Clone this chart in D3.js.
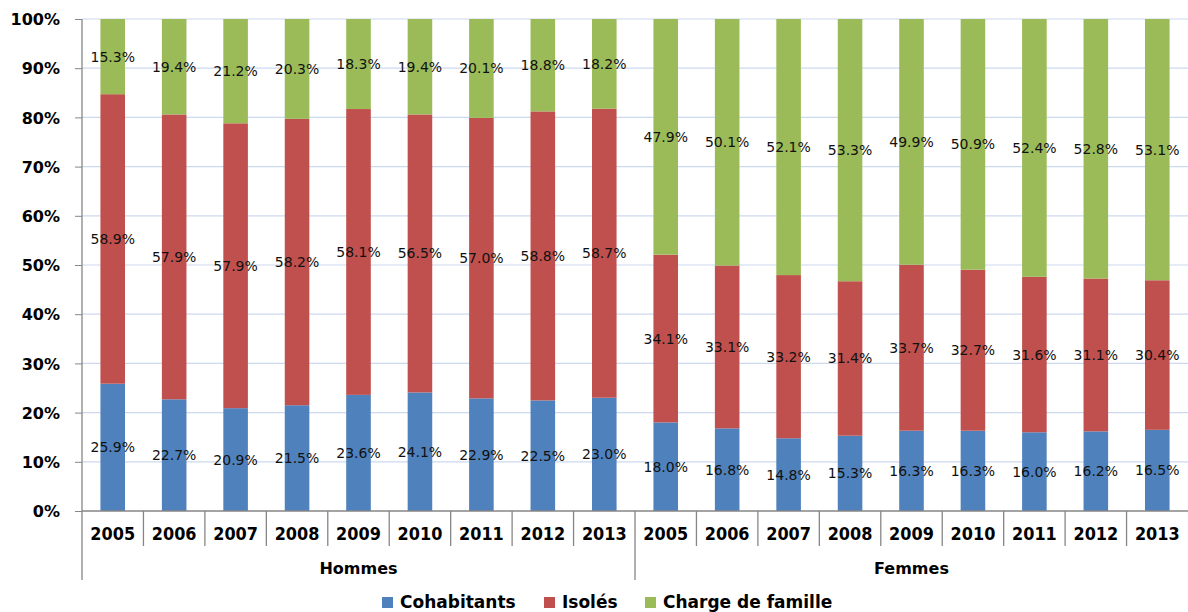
<!DOCTYPE html>
<html>
<head>
<meta charset="utf-8">
<script src="https://cdn.jsdelivr.net/npm/d3@7"></script>
<style>
  html, body { margin: 0; padding: 0; background: #fff; }
  svg { display: block; font-family: "DejaVu Sans", Verdana, sans-serif; }
</style>
</head>
<body>
<svg id="chart" width="1188" height="612"></svg>
<script>
// Household status shares by year, split by sex (100% stacked)
const groups = ["Hommes", "Femmes"];
const years = ["2005", "2006", "2007", "2008", "2009", "2010", "2011", "2012", "2013"];
const seriesNames = ["Cohabitants", "Isolés", "Charge de famille"];
const seriesColors = ["#4F81BD", "#C0504D", "#9BBB59"];

const cohabitantsHommes = [25.9, 22.7, 20.9, 21.5, 23.6, 24.1, 22.9, 22.5, 23.0];
const isolesHommes      = [58.9, 57.9, 57.9, 58.2, 58.1, 56.5, 57.0, 58.8, 58.7];
const chargeHommes      = [15.3, 19.4, 21.2, 20.3, 18.3, 19.4, 20.1, 18.8, 18.2];

const cohabitantsFemmes = [18.0, 16.8, 14.8, 15.3, 16.3, 16.3, 16.0, 16.2, 16.5];
const isolesFemmes      = [34.1, 33.1, 33.2, 31.4, 33.7, 32.7, 31.6, 31.1, 30.4];
const chargeFemmes      = [47.9, 50.1, 52.1, 53.3, 49.9, 50.9, 52.4, 52.8, 53.1];

const yTicks = [0, 0.1, 0.2, 0.3, 0.4, 0.5, 0.6, 0.7, 0.8, 0.9, 1.0];

// Build the row table
const bySex = {
  Hommes: [cohabitantsHommes, isolesHommes, chargeHommes],
  Femmes: [cohabitantsFemmes, isolesFemmes, chargeFemmes]
};
const rows = [];
groups.forEach(g => {
  years.forEach((yr, i) => {
    const vals = bySex[g].map(s => s[i]);
    rows.push({ key: g + "-" + yr, group: g, year: yr, vals: vals, total: d3.sum(vals) });
  });
});

const svg = d3.select("#chart");
const margin = { left: 82, right: 0, top: 19, bottom: 101 };
const W = 1188, H = 612;
const plotBottom = H - margin.bottom; // 511

const x = d3.scaleBand()
  .domain(rows.map(r => r.key))
  .range([margin.left, W - margin.right])
  .paddingInner(0.6)
  .paddingOuter(0.3);

const y = d3.scaleLinear().domain([0, 1]).range([plotBottom, margin.top]);

// Gridlines
svg.append("g")
  .selectAll("line")
  .data(yTicks.filter(t => t > 0))
  .join("line")
  .attr("x1", margin.left).attr("x2", W)
  .attr("y1", d => y(d)).attr("y2", d => y(d))
  .attr("stroke", "#CCDAF0")
  .attr("stroke-width", 1.2);

// Stacked segments
const segs = [];
rows.forEach(r => {
  let acc = 0;
  r.vals.forEach((v, si) => {
    const y0 = acc / r.total;
    acc += v;
    const y1 = acc / r.total;
    segs.push({ key: r.key, si: si, v: v, y0: y0, y1: y1 });
  });
});

svg.append("g")
  .selectAll("rect")
  .data(segs)
  .join("rect")
  .attr("x", d => x(d.key))
  .attr("width", x.bandwidth())
  .attr("y", d => y(d.y1))
  .attr("height", d => y(d.y0) - y(d.y1))
  .attr("fill", d => seriesColors[d.si]);

// Value labels centred in each segment
svg.append("g")
  .selectAll("text")
  .data(segs)
  .join("text")
  .attr("x", d => x(d.key) + x.bandwidth() / 2)
  .attr("y", d => y((d.y0 + d.y1) / 2) + 5)
  .attr("text-anchor", "middle")
  .attr("font-size", "14px")
  .attr("fill", "#111")
  .text(d => d.v.toFixed(1) + "%");

// Left axis
const yAxis = d3.axisLeft(y)
  .tickValues(yTicks)
  .tickFormat(d3.format(".0%"))
  .tickSize(7)
  .tickPadding(15);

const ya = svg.append("g")
  .attr("transform", `translate(${margin.left},0)`)
  .call(yAxis);
ya.select(".domain").remove();
ya.selectAll(".tick line").attr("stroke", "#868686");
ya.selectAll(".tick text")
  .attr("font-size", "16px")
  .attr("font-weight", "bold")
  .attr("font-family", "'DejaVu Sans', Verdana, sans-serif")
  .attr("fill", "#000")
  .attr("dy", "0.35em");

// Axis lines
const axisColor = "#868686";
svg.append("line")
  .attr("x1", margin.left).attr("x2", margin.left)
  .attr("y1", margin.top).attr("y2", 580)
  .attr("stroke", axisColor).attr("stroke-width", 1.3);
svg.append("line")
  .attr("x1", margin.left).attr("x2", W)
  .attr("y1", plotBottom).attr("y2", plotBottom)
  .attr("stroke", axisColor).attr("stroke-width", 1.3);

// Category separators below the axis
rows.forEach((r, i) => {
  if (i === 0) return;
  const edge = x(r.key) - x.step() * x.paddingInner() / 2;
  const isGroupEdge = i % years.length === 0;
  svg.append("line")
    .attr("x1", edge).attr("x2", edge)
    .attr("y1", plotBottom).attr("y2", isGroupEdge ? 580 : 546)
    .attr("stroke", axisColor).attr("stroke-width", 1.3);
});

// Year labels
svg.append("g")
  .selectAll("text")
  .data(rows)
  .join("text")
  .attr("transform", d => `translate(${x(d.key) + x.bandwidth() / 2},540) scale(0.92,1)`)
  .attr("text-anchor", "middle")
  .attr("font-size", "17.5px")
  .attr("font-weight", "bold")
  .attr("fill", "#000")
  .text(d => d.year);

// Group labels
groups.forEach(g => {
  const keys = rows.filter(r => r.group === g).map(r => r.key);
  const left = x(keys[0]) - x.step() * x.paddingInner() / 2;
  const right = x(keys[keys.length - 1]) + x.bandwidth() + x.step() * x.paddingInner() / 2;
  svg.append("text")
    .attr("x", (left + right) / 2)
    .attr("y", 574)
    .attr("text-anchor", "middle")
    .attr("font-size", "16px")
    .attr("font-weight", "bold")
    .attr("fill", "#000")
    .text(g);
});

// Legend
const legendX = [382, 544, 645];
const legend = svg.append("g");
seriesNames.forEach((name, i) => {
  legend.append("rect")
    .attr("x", legendX[i]).attr("y", 597)
    .attr("width", 11).attr("height", 11)
    .attr("fill", seriesColors[i]);
  legend.append("text")
    .attr("x", legendX[i] + 18).attr("y", 608)
    .attr("font-size", "17px")
    .attr("font-weight", "bold")
    .attr("fill", "#000")
    .text(name);
});
</script>
</body>
</html>
